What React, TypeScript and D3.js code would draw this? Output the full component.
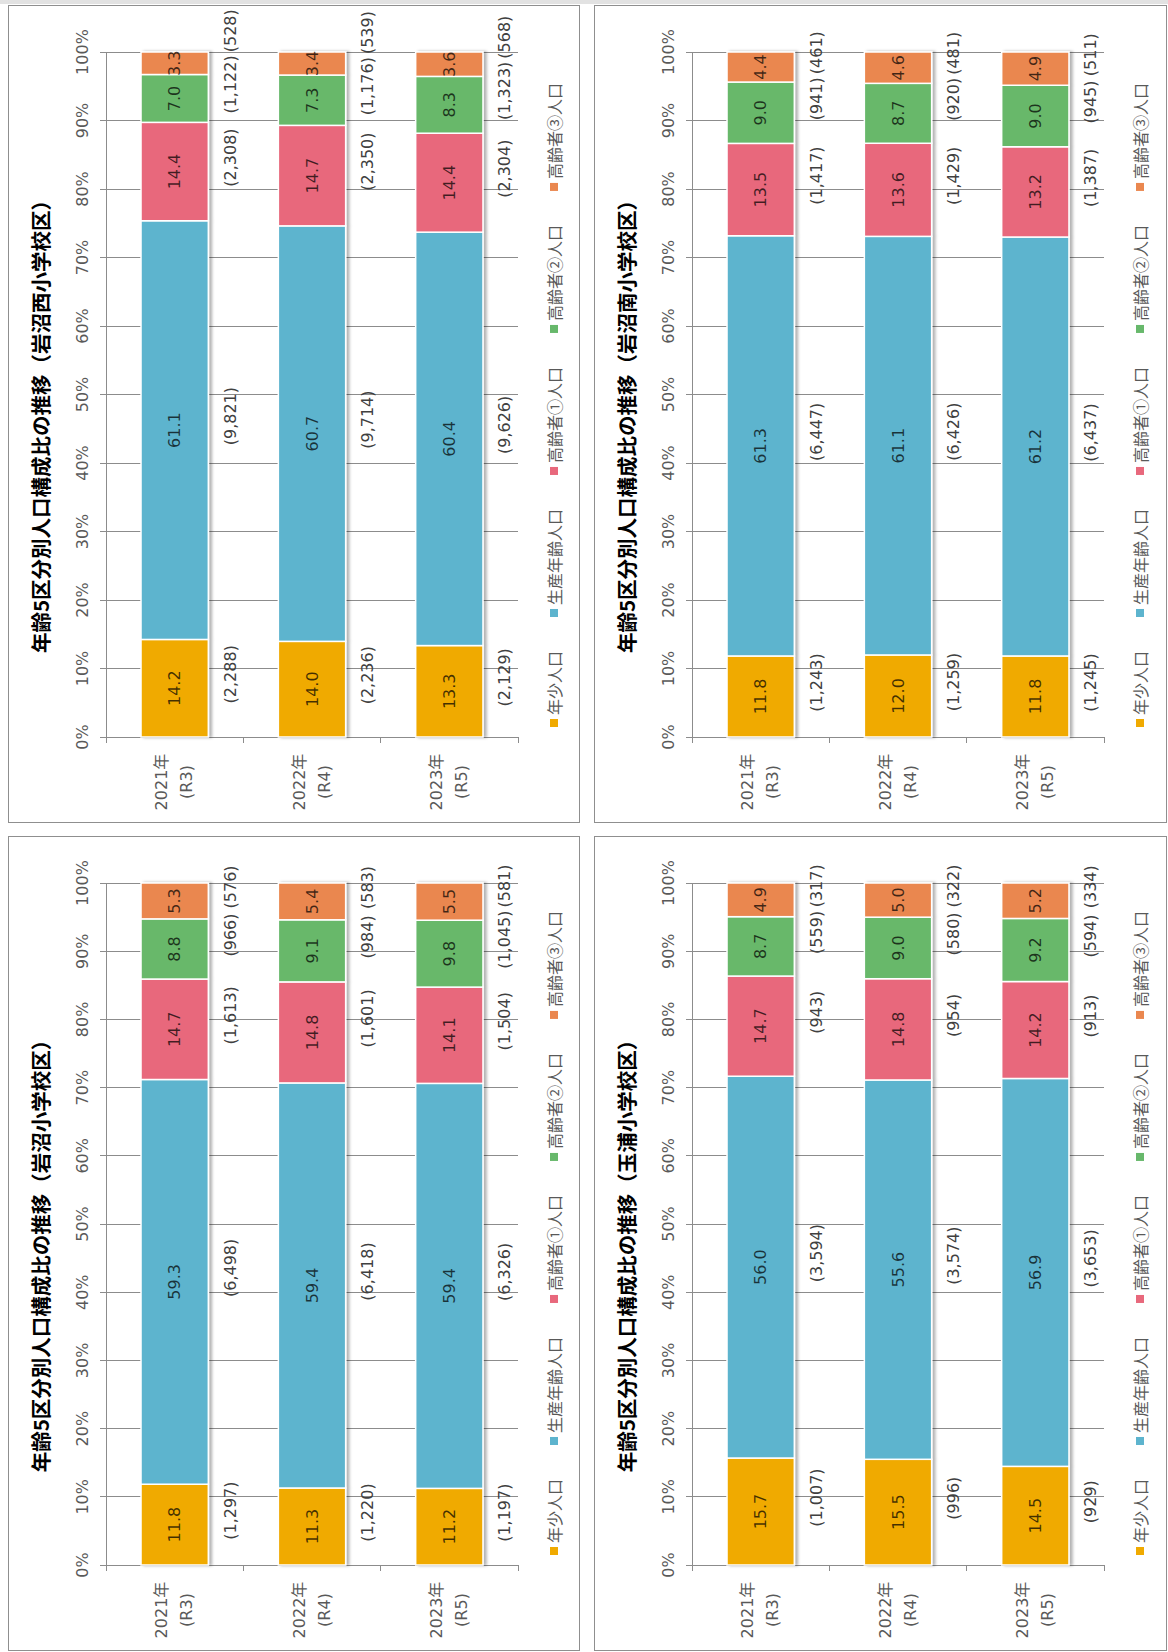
import { useRef, useEffect } from 'react'
import * as d3 from 'd3'

const years = ['2021年', '2022年', '2023年']
const eras = ['(R3)', '(R4)', '(R5)']
const groups = ['年少人口', '生産年齢人口', '高齢者①人口', '高齢者②人口', '高齢者③人口']
const groupColors = ['#F0AA00', '#5DB4CE', '#E8687C', '#67B86B', '#EA874F']

// 岩沼西小学校区
const nishiTitle = '年齢5区分別人口構成比の推移（岩沼西小学校区）'
const nishiPct = [
  [14.2, 61.1, 14.4, 7.0, 3.3],
  [14.0, 60.7, 14.7, 7.3, 3.4],
  [13.3, 60.4, 14.4, 8.3, 3.6],
]
const nishiCount = [
  [2288, 9821, 2308, 1122, 528],
  [2236, 9714, 2350, 1176, 539],
  [2129, 9626, 2304, 1323, 568],
]

// 岩沼南小学校区
const minamiTitle = '年齢5区分別人口構成比の推移（岩沼南小学校区）'
const minamiPct = [
  [11.8, 61.3, 13.5, 9.0, 4.4],
  [12.0, 61.1, 13.6, 8.7, 4.6],
  [11.8, 61.2, 13.2, 9.0, 4.9],
]
const minamiCount = [
  [1243, 6447, 1417, 941, 461],
  [1259, 6426, 1429, 920, 481],
  [1245, 6437, 1387, 945, 511],
]

// 岩沼小学校区
const iwanumaTitle = '年齢5区分別人口構成比の推移（岩沼小学校区）'
const iwanumaPct = [
  [11.8, 59.3, 14.7, 8.8, 5.3],
  [11.3, 59.4, 14.8, 9.1, 5.4],
  [11.2, 59.4, 14.1, 9.8, 5.5],
]
const iwanumaCount = [
  [1297, 6498, 1613, 966, 576],
  [1220, 6418, 1601, 984, 583],
  [1197, 6326, 1504, 1045, 581],
]

// 玉浦小学校区
const tamauraTitle = '年齢5区分別人口構成比の推移（玉浦小学校区）'
const tamauraPct = [
  [15.7, 56.0, 14.7, 8.7, 4.9],
  [15.5, 55.6, 14.8, 9.0, 5.0],
  [14.5, 56.9, 14.2, 9.2, 5.2],
]
const tamauraCount = [
  [1007, 3594, 943, 559, 317],
  [996, 3574, 954, 580, 322],
  [929, 3653, 913, 594, 334],
]

const NUM_FONT = "'DejaVu Sans', 'Noto Sans CJK JP', sans-serif"
const JP_FONT = "'Noto Sans CJK JP', sans-serif"

interface Panel {
  x: number
  y: number
  w: number
  h: number
  title: string
  pct: number[][]
  count: number[][]
}

const panels: Panel[] = [
  { x: 8, y: 5, w: 571, h: 817, title: nishiTitle, pct: nishiPct, count: nishiCount },
  { x: 594, y: 5, w: 572, h: 817, title: minamiTitle, pct: minamiPct, count: minamiCount },
  { x: 8, y: 836, w: 571, h: 814, title: iwanumaTitle, pct: iwanumaPct, count: iwanumaCount },
  { x: 594, y: 836, w: 572, h: 814, title: tamauraTitle, pct: tamauraPct, count: tamauraCount },
]

function drawPanel(root: d3.Selection<SVGSVGElement, unknown, null, undefined>, p: Panel) {
  root
    .append('rect')
    .attr('x', p.x + 0.5)
    .attr('y', p.y + 0.5)
    .attr('width', p.w)
    .attr('height', p.h)
    .attr('fill', '#fff')
    .attr('stroke', '#8f8f8f')

  // chart is drawn landscape, then turned a quarter to the left
  const L = p.h
  const g = root.append('g').attr('transform', `translate(${p.x},${p.y + p.h}) rotate(-90)`)

  const x = d3.scaleLinear().domain([0, 1]).range([85, L - 47])
  const y = d3.scaleBand().domain(years).range([98, 510])
  const barW = y.bandwidth() * 0.49
  const barY = (yr: string) => (y(yr) ?? 0) + (y.bandwidth() - barW) / 2
  const ticks = x.ticks(10)

  // gridlines
  g.append('g')
    .selectAll('line')
    .data(ticks)
    .join('line')
    .attr('x1', (d) => x(d))
    .attr('x2', (d) => x(d))
    .attr('y1', 92)
    .attr('y2', 510)
    .attr('stroke', '#8c8c8c')
    .attr('shape-rendering', 'crispEdges')

  // value axis line
  g.append('line')
    .attr('x1', x(0) - 6)
    .attr('x2', x(1))
    .attr('y1', 98)
    .attr('y2', 98)
    .attr('stroke', '#8c8c8c')
    .attr('shape-rendering', 'crispEdges')

  // category ticks
  g.append('g')
    .selectAll('line')
    .data([...years.map((d) => y(d) ?? 0), 510])
    .join('line')
    .attr('x1', x(0) - 6)
    .attr('x2', x(0))
    .attr('y1', (d) => d)
    .attr('y2', (d) => d)
    .attr('stroke', '#8c8c8c')
    .attr('shape-rendering', 'crispEdges')

  // percent labels
  g.append('g')
    .selectAll('text')
    .data(ticks)
    .join('text')
    .attr('x', (d) => x(d))
    .attr('y', 74)
    .attr('text-anchor', 'middle')
    .attr('dominant-baseline', 'central')
    .attr('font-family', NUM_FONT)
    .attr('font-size', 16)
    .attr('fill', '#595959')
    .text((d) => d3.format('.0%')(d))

  // category labels
  years.forEach((yr, j) => {
    const c = (y(yr) ?? 0) + y.bandwidth() / 2
    g.append('text')
      .attr('x', x(0) - 45)
      .attr('y', c - 13)
      .attr('text-anchor', 'middle')
      .attr('dominant-baseline', 'central')
      .attr('font-family', NUM_FONT)
      .attr('font-size', 16)
      .attr('fill', '#595959')
      .text(yr)
    g.append('text')
      .attr('x', x(0) - 45)
      .attr('y', c + 12)
      .attr('text-anchor', 'middle')
      .attr('dominant-baseline', 'central')
      .attr('font-family', NUM_FONT)
      .attr('font-size', 16)
      .attr('fill', '#595959')
      .text(eras[j])
  })

  // stacked bars (shares from the counts)
  const rows = p.count.map((r) => Object.fromEntries(groups.map((k, i) => [k, r[i]])))
  const series = d3.stack<Record<string, number>>().keys(groups).offset(d3.stackOffsetExpand)(rows)

  years.forEach((yr, j) => {
    const by = barY(yr)
    const bar = g.append('g').attr('filter', 'url(#barShadow)')
    series.forEach((s, i) => {
      bar
        .append('rect')
        .attr('x', x(s[j][0]))
        .attr('y', by)
        .attr('width', x(s[j][1]) - x(s[j][0]))
        .attr('height', barW)
        .attr('fill', groupColors[i])
        .attr('stroke', '#fff')
        .attr('stroke-width', 1.5)
    })
    series.forEach((s, i) => {
      g.append('text')
        .attr('x', (x(s[j][0]) + x(s[j][1])) / 2)
        .attr('y', by + barW / 2)
        .attr('text-anchor', 'middle')
        .attr('dominant-baseline', 'central')
        .attr('font-family', NUM_FONT)
        .attr('font-size', 16)
        .attr('fill', '#000')
        .attr('fill-opacity', 0.72)
        .text(p.pct[j][i].toFixed(1))
    })

    // count labels beside the bar, pushed apart where they would collide
    const labels = series.map((s, i) =>
      g
        .append('text')
        .attr('y', by + barW + 22)
        .attr('text-anchor', 'middle')
        .attr('dominant-baseline', 'central')
        .attr('font-family', NUM_FONT)
        .attr('font-size', 16)
        .attr('fill', '#404040')
        .text(`(${d3.format(',')(p.count[j][i])})`)
    )
    let prevHi = -Infinity
    series.forEach((s, i) => {
      const node = labels[i].node() as SVGTextElement
      const w = node.getComputedTextLength()
      let c = (x(s[j][0]) + x(s[j][1])) / 2 + 14
      if (c - w / 2 < prevHi + 3) c = prevHi + 3 + w / 2
      labels[i].attr('x', c)
      prevHi = c + w / 2
    })
  })

  // title
  g.append('text')
    .attr('x', L / 2 - 8)
    .attr('y', 32)
    .attr('text-anchor', 'middle')
    .attr('dominant-baseline', 'central')
    .attr('font-family', JP_FONT)
    .attr('font-weight', 700)
    .attr('font-size', 20.5)
    .attr('fill', '#000')
    .text(p.title)

  // legend
  const leg = g.append('g')
  let pos = 95
  groups.forEach((name, i) => {
    leg
      .append('rect')
      .attr('x', pos)
      .attr('y', 546 - 4)
      .attr('width', 8)
      .attr('height', 8)
      .attr('fill', groupColors[i])
    const t = leg
      .append('text')
      .attr('x', pos + 12)
      .attr('y', 546)
      .attr('dominant-baseline', 'central')
      .attr('font-family', JP_FONT)
      .attr('font-size', 16)
      .attr('fill', '#595959')
      .text(name)
    pos += 12 + (t.node() as SVGTextElement).getComputedTextLength() + 34
  })
}

export default function App() {
  const svgRef = useRef<SVGSVGElement>(null)

  useEffect(() => {
    if (!svgRef.current) return
    const svg = d3.select(svgRef.current)
    svg.selectAll('*').remove()

    const defs = svg.append('defs')
    defs
      .append('filter')
      .attr('id', 'barShadow')
      .attr('x', '-10%')
      .attr('y', '-10%')
      .attr('width', '120%')
      .attr('height', '130%')
      .append('feDropShadow')
      .attr('dx', 0)
      .attr('dy', 3)
      .attr('stdDeviation', 1.5)
      .attr('flood-color', '#000')
      .attr('flood-opacity', 0.3)

    svg.append('rect').attr('width', 1168).attr('height', 1652).attr('fill', '#fff')
    svg.append('rect').attr('width', 1168).attr('height', 4).attr('fill', '#e2e2e2')

    panels.forEach((p) => drawPanel(svg, p))

    return () => {
      svg.selectAll('*').remove()
    }
  }, [])

  return (
    <svg
      ref={svgRef}
      width={1168}
      height={1652}
      style={{ position: 'absolute', left: 0, top: 0, display: 'block' }}
    />
  )
}
